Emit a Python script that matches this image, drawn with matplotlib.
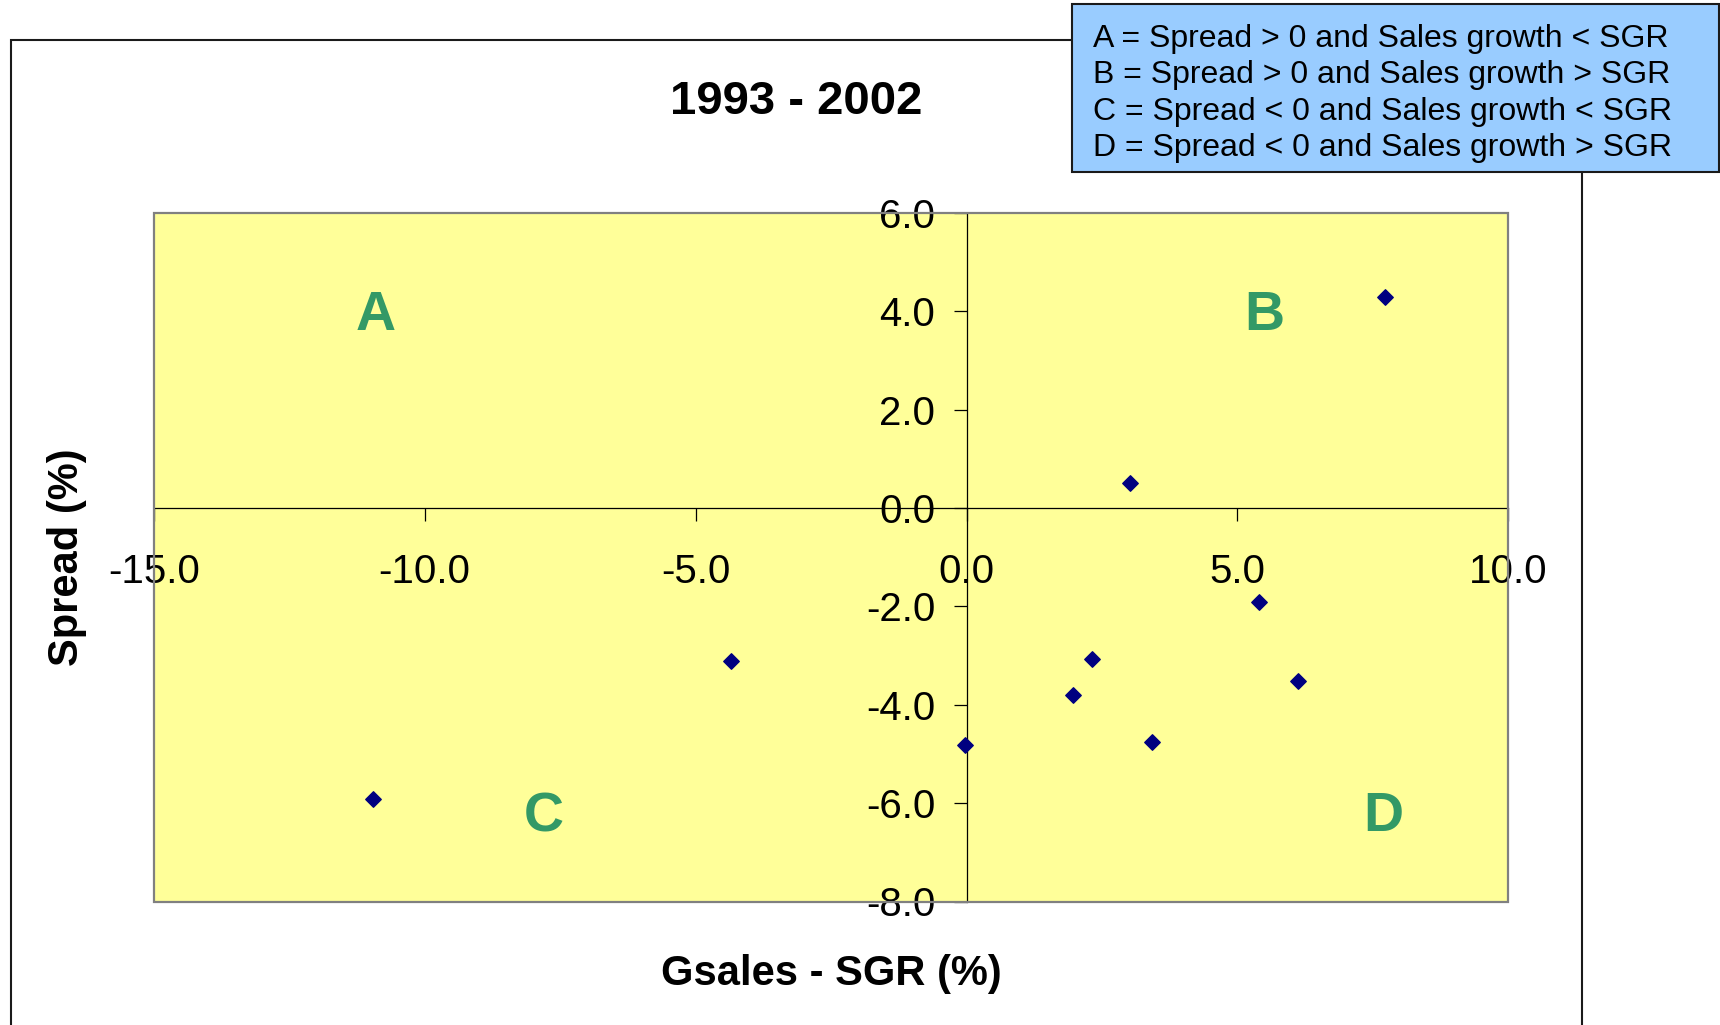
import matplotlib.pyplot as plt
from matplotlib.patches import Rectangle

plt.rcParams['font.family'] = ['Liberation Sans', 'DejaVu Sans']

# Spread vs. sales growth gap, 1993 - 2002
gsales_sgr = [7.72, 3.01, 5.40, 2.32, 1.97, 6.11, 3.42, -0.03, -4.35, -10.95]
spread = [4.30, 0.50, -1.91, -3.06, -3.81, -3.51, -4.76, -4.81, -3.11, -5.92]

x_ticks = [-15, -10, -5, 0, 5, 10]
y_ticks = [6, 4, 2, 0, -2, -4, -6, -8]

legend_lines = [
    'A = Spread > 0 and Sales growth < SGR',
    'B = Spread > 0 and Sales growth > SGR',
    'C = Spread < 0 and Sales growth < SGR',
    'D = Spread < 0 and Sales growth > SGR',
]

W, H = 1720, 1025
fig = plt.figure(figsize=(W / 100, H / 100), dpi=100)

def fx(px):
    return px / W

def fy(py):
    return 1 - py / H

# chart area border
fig.patches.append(Rectangle((fx(11), fy(1040)), fx(1582) - fx(11), fy(40) - fy(1040),
                             transform=fig.transFigure, fill=False,
                             edgecolor='#1a1a1a', linewidth=1.5, zorder=0))

ax = fig.add_axes([fx(153.7), fy(901.5), fx(1508.4) - fx(153.7), fy(213) - fy(901.5)])
ax.set_facecolor('#FFFF99')
ax.set_xlim(-15, 10)
ax.set_ylim(-8, 6)

# axes cross at the origin
for side in ['top', 'right']:
    ax.spines[side].set_visible(False)
ax.spines['left'].set_position(('data', 0))
ax.spines['bottom'].set_position(('data', 0))
for side in ['left', 'bottom']:
    ax.spines[side].set_color('black')
    ax.spines[side].set_linewidth(0.9)

# plot area frame
ax.add_patch(Rectangle((0, 0), 1, 1, transform=ax.transAxes, fill=False,
                       edgecolor='#808080', linewidth=1.6, zorder=5, clip_on=False))

ax.set_xticks(x_ticks)
ax.set_yticks(y_ticks)
ax.set_xticklabels([f'{v:.1f}' for v in x_ticks])
ax.set_yticklabels([f'{v:.1f}' for v in y_ticks])
ax.tick_params(axis='x', direction='out', length=9, width=0.9, pad=23, labelsize=29)
ax.tick_params(axis='y', direction='out', length=9.5, width=0.9, pad=13, labelsize=29)

ax.scatter(gsales_sgr, spread, marker='D', s=62, color='#000080', zorder=4, clip_on=False)

quad_style = dict(fontsize=40, fontweight='bold', color='#339966', ha='center', va='center')
ax.text(-10.9, 3.91, 'A', **quad_style)
ax.text(5.5, 3.91, 'B', **quad_style)
ax.text(-7.8, -6.29, 'C', **quad_style)
ax.text(7.7, -6.29, 'D', **quad_style)

fig.text(fx(796.5), fy(102), '1993 - 2002', fontsize=34, fontweight='bold',
         ha='center', va='center')
fig.text(fx(831), fy(974), 'Gsales - SGR (%)', fontsize=30, fontweight='bold',
         ha='center', va='center')
fig.text(fx(67), fy(557), 'Spread (%)', fontsize=30, fontweight='bold',
         ha='center', va='center', rotation=90)

# definitions box
fig.patches.append(Rectangle((fx(1072), fy(172)), fx(1719) - fx(1072), fy(4) - fy(172),
                             transform=fig.transFigure, facecolor='#99CCFF',
                             edgecolor='#1a1a1a', linewidth=1.5, zorder=3))
for i, line in enumerate(legend_lines):
    fig.text(fx(1093), fy(38.5 + 36.6 * i), line, fontsize=23, ha='left', va='center', zorder=4)

fig.savefig('out.png', dpi=100)
